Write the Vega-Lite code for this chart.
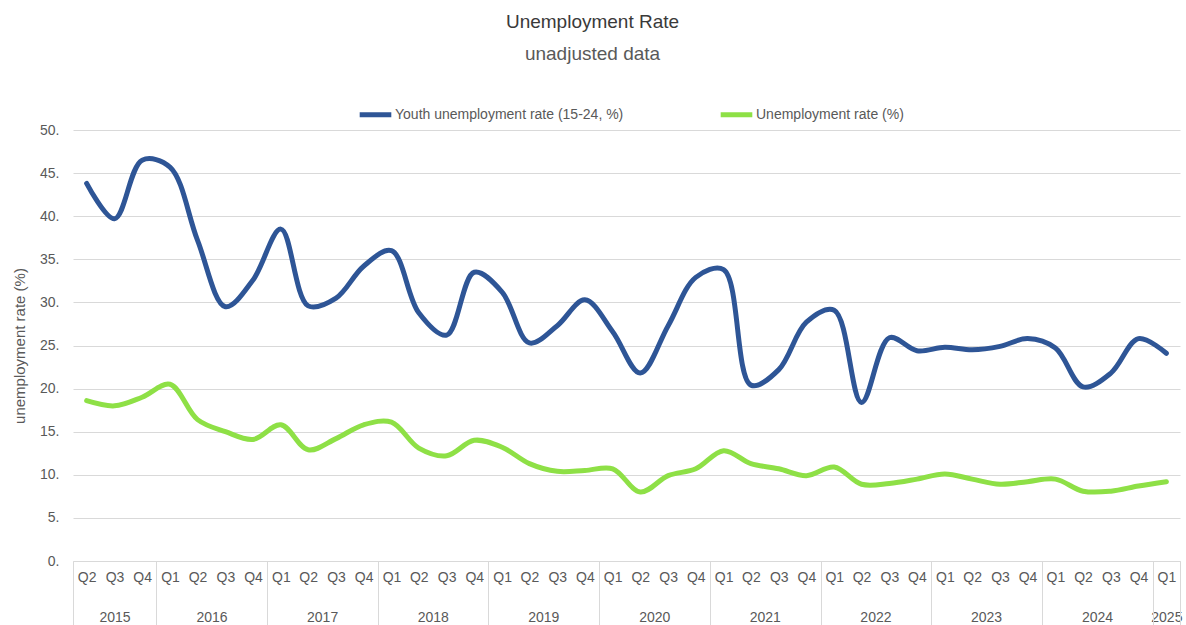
{
  "$schema": "https://vega.github.io/schema/vega-lite/v6.json",
  "width": 1107,
  "height": 431,
  "autosize": {"type": "none"},
  "padding": {"left": 73, "top": 130, "right": 6, "bottom": 64},
  "background": "white",
  "title": {
    "text": "Unemployment Rate",
    "subtitle": "unadjusted data",
    "anchor": "middle",
    "dx": -34,
    "offset": 32,
    "font": "Liberation Sans",
    "fontSize": 19,
    "fontWeight": "normal",
    "color": "#3a3a3a",
    "subtitleFont": "Liberation Sans",
    "subtitleFontSize": 19,
    "subtitleColor": "#595959",
    "subtitlePadding": 13
  },
  "config": {
    "view": {"stroke": null},
    "font": "Liberation Sans"
  },
  "data": {
    "values": [
      {"date": "2015-05-16", "Youth unemployment rate (15-24, %)": 43.8, "Unemployment rate (%)": 18.6},
      {"date": "2015-08-16", "Youth unemployment rate (15-24, %)": 39.7, "Unemployment rate (%)": 18.0},
      {"date": "2015-11-15", "Youth unemployment rate (15-24, %)": 46.5, "Unemployment rate (%)": 19.0},
      {"date": "2016-02-15", "Youth unemployment rate (15-24, %)": 45.7, "Unemployment rate (%)": 20.5},
      {"date": "2016-05-16", "Youth unemployment rate (15-24, %)": 37.2, "Unemployment rate (%)": 16.4},
      {"date": "2016-08-16", "Youth unemployment rate (15-24, %)": 29.5, "Unemployment rate (%)": 15.0},
      {"date": "2016-11-15", "Youth unemployment rate (15-24, %)": 32.6, "Unemployment rate (%)": 14.1},
      {"date": "2017-02-15", "Youth unemployment rate (15-24, %)": 38.5, "Unemployment rate (%)": 15.8},
      {"date": "2017-05-16", "Youth unemployment rate (15-24, %)": 29.6, "Unemployment rate (%)": 12.9},
      {"date": "2017-08-16", "Youth unemployment rate (15-24, %)": 30.5, "Unemployment rate (%)": 14.2},
      {"date": "2017-11-15", "Youth unemployment rate (15-24, %)": 34.2, "Unemployment rate (%)": 15.8},
      {"date": "2018-02-15", "Youth unemployment rate (15-24, %)": 36.0, "Unemployment rate (%)": 16.1},
      {"date": "2018-05-16", "Youth unemployment rate (15-24, %)": 28.8, "Unemployment rate (%)": 13.1},
      {"date": "2018-08-16", "Youth unemployment rate (15-24, %)": 26.2, "Unemployment rate (%)": 12.2},
      {"date": "2018-11-15", "Youth unemployment rate (15-24, %)": 33.5, "Unemployment rate (%)": 14.0},
      {"date": "2019-02-15", "Youth unemployment rate (15-24, %)": 31.2, "Unemployment rate (%)": 13.2},
      {"date": "2019-05-16", "Youth unemployment rate (15-24, %)": 25.3, "Unemployment rate (%)": 11.3},
      {"date": "2019-08-16", "Youth unemployment rate (15-24, %)": 27.3, "Unemployment rate (%)": 10.4},
      {"date": "2019-11-15", "Youth unemployment rate (15-24, %)": 30.3, "Unemployment rate (%)": 10.5},
      {"date": "2020-02-15", "Youth unemployment rate (15-24, %)": 26.6, "Unemployment rate (%)": 10.7},
      {"date": "2020-05-16", "Youth unemployment rate (15-24, %)": 21.8, "Unemployment rate (%)": 8.0},
      {"date": "2020-08-16", "Youth unemployment rate (15-24, %)": 27.3, "Unemployment rate (%)": 9.9},
      {"date": "2020-11-15", "Youth unemployment rate (15-24, %)": 32.9, "Unemployment rate (%)": 10.7},
      {"date": "2021-02-15", "Youth unemployment rate (15-24, %)": 33.8, "Unemployment rate (%)": 12.8},
      {"date": "2021-05-16", "Youth unemployment rate (15-24, %)": 20.4, "Unemployment rate (%)": 11.3},
      {"date": "2021-08-16", "Youth unemployment rate (15-24, %)": 22.2, "Unemployment rate (%)": 10.7},
      {"date": "2021-11-15", "Youth unemployment rate (15-24, %)": 27.7, "Unemployment rate (%)": 9.9},
      {"date": "2022-02-15", "Youth unemployment rate (15-24, %)": 29.1, "Unemployment rate (%)": 10.9},
      {"date": "2022-05-16", "Youth unemployment rate (15-24, %)": 18.4, "Unemployment rate (%)": 8.9},
      {"date": "2022-08-16", "Youth unemployment rate (15-24, %)": 25.9, "Unemployment rate (%)": 9.0},
      {"date": "2022-11-15", "Youth unemployment rate (15-24, %)": 24.4, "Unemployment rate (%)": 9.5},
      {"date": "2023-02-15", "Youth unemployment rate (15-24, %)": 24.8, "Unemployment rate (%)": 10.1},
      {"date": "2023-05-16", "Youth unemployment rate (15-24, %)": 24.5, "Unemployment rate (%)": 9.5},
      {"date": "2023-08-16", "Youth unemployment rate (15-24, %)": 24.9, "Unemployment rate (%)": 8.9},
      {"date": "2023-11-15", "Youth unemployment rate (15-24, %)": 25.8, "Unemployment rate (%)": 9.2},
      {"date": "2024-02-15", "Youth unemployment rate (15-24, %)": 24.7, "Unemployment rate (%)": 9.5},
      {"date": "2024-05-16", "Youth unemployment rate (15-24, %)": 20.2, "Unemployment rate (%)": 8.1},
      {"date": "2024-08-16", "Youth unemployment rate (15-24, %)": 21.8, "Unemployment rate (%)": 8.1},
      {"date": "2024-11-15", "Youth unemployment rate (15-24, %)": 25.8, "Unemployment rate (%)": 8.7},
      {"date": "2025-02-15", "Youth unemployment rate (15-24, %)": 24.1, "Unemployment rate (%)": 9.2}
    ]
  },
  "resolve": {"axis": {"x": "independent"}},
  "layer": [
    {
      "transform": [
        {"fold": ["Youth unemployment rate (15-24, %)", "Unemployment rate (%)"], "as": ["series", "rate"]}
      ],
      "mark": {"type": "line", "interpolate": "catmull-rom", "strokeWidth": 5, "strokeCap": "round", "strokeJoin": "round"},
      "encoding": {
        "x": {
          "field": "date",
          "type": "temporal",
          "scale": {"type": "utc", "domain": [{"year": 2015, "month": 4, "date": 1, "utc": true}, {"year": 2025, "month": 4, "date": 1, "utc": true}]},
          "axis": {
            "title": null,
            "orient": "bottom",
            "values": [
              {"year": 2015, "month": 5, "date": 16, "utc": true}, {"year": 2015, "month": 8, "date": 16, "utc": true}, {"year": 2015, "month": 11, "date": 15, "utc": true},
              {"year": 2016, "month": 2, "date": 15, "utc": true}, {"year": 2016, "month": 5, "date": 16, "utc": true}, {"year": 2016, "month": 8, "date": 16, "utc": true}, {"year": 2016, "month": 11, "date": 15, "utc": true},
              {"year": 2017, "month": 2, "date": 15, "utc": true}, {"year": 2017, "month": 5, "date": 16, "utc": true}, {"year": 2017, "month": 8, "date": 16, "utc": true}, {"year": 2017, "month": 11, "date": 15, "utc": true},
              {"year": 2018, "month": 2, "date": 15, "utc": true}, {"year": 2018, "month": 5, "date": 16, "utc": true}, {"year": 2018, "month": 8, "date": 16, "utc": true}, {"year": 2018, "month": 11, "date": 15, "utc": true},
              {"year": 2019, "month": 2, "date": 15, "utc": true}, {"year": 2019, "month": 5, "date": 16, "utc": true}, {"year": 2019, "month": 8, "date": 16, "utc": true}, {"year": 2019, "month": 11, "date": 15, "utc": true},
              {"year": 2020, "month": 2, "date": 15, "utc": true}, {"year": 2020, "month": 5, "date": 16, "utc": true}, {"year": 2020, "month": 8, "date": 16, "utc": true}, {"year": 2020, "month": 11, "date": 15, "utc": true},
              {"year": 2021, "month": 2, "date": 15, "utc": true}, {"year": 2021, "month": 5, "date": 16, "utc": true}, {"year": 2021, "month": 8, "date": 16, "utc": true}, {"year": 2021, "month": 11, "date": 15, "utc": true},
              {"year": 2022, "month": 2, "date": 15, "utc": true}, {"year": 2022, "month": 5, "date": 16, "utc": true}, {"year": 2022, "month": 8, "date": 16, "utc": true}, {"year": 2022, "month": 11, "date": 15, "utc": true},
              {"year": 2023, "month": 2, "date": 15, "utc": true}, {"year": 2023, "month": 5, "date": 16, "utc": true}, {"year": 2023, "month": 8, "date": 16, "utc": true}, {"year": 2023, "month": 11, "date": 15, "utc": true},
              {"year": 2024, "month": 2, "date": 15, "utc": true}, {"year": 2024, "month": 5, "date": 16, "utc": true}, {"year": 2024, "month": 8, "date": 16, "utc": true}, {"year": 2024, "month": 11, "date": 15, "utc": true},
              {"year": 2025, "month": 2, "date": 15, "utc": true}
            ],
            "labelExpr": "'Q' + utcquarter(datum.value)",
            "labelFontSize": 14,
            "labelColor": "#595959",
            "labelPadding": 9,
            "ticks": false,
            "tickSize": 0,
            "domain": true,
            "domainColor": "#d9d9d9",
            "grid": false,
            "labelOverlap": false,
            "labelFlush": false
          }
        },
        "y": {
          "field": "rate",
          "type": "quantitative",
          "scale": {"domain": [0, 50], "nice": false},
          "axis": {
            "title": "unemployment rate (%)",
            "titleFontSize": 15,
            "titleFontWeight": "normal",
            "titleColor": "#595959",
            "titlePadding": 12,
            "values": [0, 5, 10, 15, 20, 25, 30, 35, 40, 45, 50],
            "labelExpr": "datum.value + '.'",
            "labelFontSize": 14,
            "labelColor": "#595959",
            "labelPadding": 14,
            "ticks": false,
            "domain": false,
            "grid": true,
            "gridColor": "#d9d9d9",
            "gridWidth": 1
          }
        },
        "color": {
          "field": "series",
          "type": "nominal",
          "scale": {"domain": ["Youth unemployment rate (15-24, %)", "Unemployment rate (%)"], "range": ["#2E5596", "#8EE046"]},
          "legend": {
            "title": null,
            "orient": "none",
            "direction": "horizontal",
            "legendX": 284,
            "legendY": -34,
            "symbolType": "stroke",
            "symbolStrokeWidth": 5,
            "symbolSize": 1000,
            "labelFontSize": 14,
            "labelColor": "#595959",
            "labelOffset": 1,
            "columnPadding": 86,
            "labelLimit": 400
          }
        }
      }
    },
    {
      "mark": {"type": "point", "opacity": 0},
      "encoding": {
        "x": {
          "field": "date",
          "type": "temporal",
          "axis": {
            "title": null,
            "orient": "bottom",
            "values": [
              {"year": 2015, "month": 8, "date": 16, "utc": true},
              {"year": 2016, "month": 7, "date": 1, "utc": true},
              {"year": 2017, "month": 7, "date": 1, "utc": true},
              {"year": 2018, "month": 7, "date": 1, "utc": true},
              {"year": 2019, "month": 7, "date": 1, "utc": true},
              {"year": 2020, "month": 7, "date": 1, "utc": true},
              {"year": 2021, "month": 7, "date": 1, "utc": true},
              {"year": 2022, "month": 7, "date": 1, "utc": true},
              {"year": 2023, "month": 7, "date": 1, "utc": true},
              {"year": 2024, "month": 7, "date": 1, "utc": true},
              {"year": 2025, "month": 2, "date": 15, "utc": true}
            ],
            "labelExpr": "utcyear(datum.value)",
            "labelFontSize": 14,
            "labelColor": "#595959",
            "labelPadding": 49,
            "ticks": false,
            "tickSize": 0,
            "domain": false,
            "grid": false,
            "labelOverlap": false,
            "labelFlush": false
          }
        }
      }
    },
    {
      "mark": {"type": "point", "opacity": 0},
      "encoding": {
        "x": {
          "field": "date",
          "type": "temporal",
          "axis": {
            "title": null,
            "orient": "bottom",
            "values": [
              {"year": 2015, "month": 4, "date": 1, "utc": true},
              {"year": 2016, "month": 1, "date": 1, "utc": true},
              {"year": 2017, "month": 1, "date": 1, "utc": true},
              {"year": 2018, "month": 1, "date": 1, "utc": true},
              {"year": 2019, "month": 1, "date": 1, "utc": true},
              {"year": 2020, "month": 1, "date": 1, "utc": true},
              {"year": 2021, "month": 1, "date": 1, "utc": true},
              {"year": 2022, "month": 1, "date": 1, "utc": true},
              {"year": 2023, "month": 1, "date": 1, "utc": true},
              {"year": 2024, "month": 1, "date": 1, "utc": true},
              {"year": 2025, "month": 1, "date": 1, "utc": true},
              {"year": 2025, "month": 4, "date": 1, "utc": true}
            ],
            "labels": false,
            "ticks": true,
            "tickSize": 64,
            "tickColor": "#d9d9d9",
            "tickWidth": 1,
            "domain": false,
            "grid": false
          }
        }
      }
    }
  ]
}
